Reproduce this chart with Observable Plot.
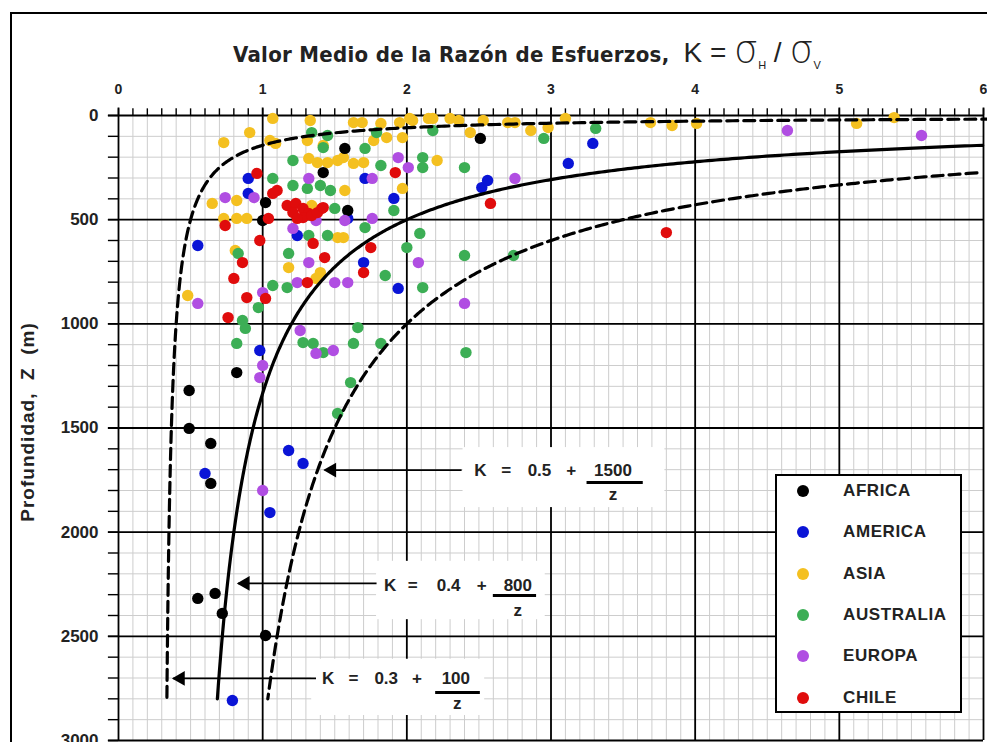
<!DOCTYPE html>
<html>
<head>
<meta charset="utf-8">
<script src="https://cdn.jsdelivr.net/npm/d3@7"></script>
<script src="https://cdn.jsdelivr.net/npm/@observablehq/plot@0.6"></script>
<style>
html,body{margin:0;padding:0;background:#fff;}
#wrap{position:relative;width:987px;height:742px;overflow:hidden;background:#fff;font-family:"Liberation Sans",Arial,sans-serif;}
#frame{position:absolute;left:10px;top:12px;width:1100px;height:900px;border:2px solid #000;box-sizing:border-box;}
#plot{position:absolute;left:0;top:0;}
#plot svg{overflow:visible;}
#plot svg text{font-weight:bold;}
#title{position:absolute;left:233px;top:27px;white-space:nowrap;color:#222;}
#title .t1{font-family:"Liberation Sans Narrow","DejaVu Sans Condensed","Liberation Sans",sans-serif;font-size:22px;font-weight:bold;letter-spacing:0.3px;}
#title .t2{font-family:"Liberation Sans",sans-serif;font-size:28px;margin-left:14px;}
#title .sig{font-family:"DejaVu Sans",sans-serif;font-size:38px;font-weight:200;}
#title sub{font-size:11px;}
#ylab{position:absolute;left:28px;top:422px;transform:translate(-50%,-50%) rotate(-90deg);white-space:nowrap;font-weight:bold;font-size:19px;letter-spacing:1px;color:#222;}
#legend{position:absolute;left:775px;top:474px;width:187px;height:239px;background:#fff;border:2px solid #000;box-sizing:border-box;}
.li{position:absolute;left:0;height:20px;width:180px;}
.li .sw{position:absolute;left:20px;top:4px;width:12px;height:12px;border-radius:50%;}
.li .lb{position:absolute;left:66px;top:0;font-size:17px;font-weight:bold;letter-spacing:0.6px;color:#222;line-height:20px;}
</style>
</head>
<body>
<div id="wrap">
  <div id="frame"></div>
  <div id="plot"></div>
  <div id="title"><span class="t1">Valor Medio de la Razón de Esfuerzos,</span><span class="t2">K = <span class="sig">σ</span><sub>H</sub> / <span class="sig">σ</span><sub>V</sub></span></div>
  <div id="ylab">Profundidad,&nbsp; Z&nbsp; (m)</div>
  <div id="legend"></div>
</div>
<script>
// ---- data: [K, z(m)] per region ----
const africa = [[1.57,158],[2.51,110],[1.42,274],[1.02,418],[1.00,504],[1.59,456],[0.82,1234],[0.49,1320],[0.49,1502],[0.64,1574],[0.64,1766],[0.55,2318],[0.67,2294],[0.72,2390],[1.02,2496]];
const america = [[0.90,302],[0.90,374],[1.71,302],[1.91,398],[1.59,494],[1.24,576],[0.55,624],[1.70,706],[1.94,830],[2.52,346],[2.56,312],[3.12,230],[3.29,134],[0.98,1128],[1.18,1608],[1.28,1670],[0.60,1718],[1.05,1906],[0.79,2808]];
const asia = [[1.07,14],[1.33,24],[1.63,34],[1.69,34],[1.82,38],[1.95,34],[2.04,24],[2.15,14],[0.73,130],[0.91,82],[1.05,120],[1.09,134],[1.31,120],[1.42,144],[1.77,120],[1.86,106],[1.97,106],[1.32,206],[1.38,226],[1.45,226],[1.52,216],[1.63,230],[1.70,226],[1.56,202],[2.21,216],[1.57,360],[1.97,350],[0.65,422],[0.82,408],[0.73,494],[0.82,494],[0.89,494],[1.34,432],[1.52,586],[1.56,586],[1.18,730],[1.40,754],[1.37,782],[0.48,864],[0.81,648],[2.02,14],[2.18,14],[2.30,14],[2.36,24],[2.44,82],[2.53,24],[2.70,34],[2.75,34],[2.86,72],[2.98,58],[3.10,14],[3.69,34],[3.84,48],[4.01,38],[5.12,38],[5.38,10]];
const australia = [[1.34,82],[1.45,96],[1.42,154],[1.71,158],[2.18,72],[1.79,82],[1.21,216],[1.82,240],[2.11,202],[2.11,250],[1.07,302],[1.21,336],[1.31,350],[1.40,336],[1.47,360],[1.50,446],[1.91,456],[1.71,538],[1.32,576],[1.45,576],[2.09,566],[2.00,634],[0.83,662],[1.18,662],[1.07,816],[1.17,826],[1.85,768],[2.11,826],[0.97,922],[0.86,984],[0.88,1022],[1.66,1018],[0.82,1094],[1.28,1090],[1.35,1094],[1.42,1138],[1.63,1094],[1.82,1094],[1.61,1282],[1.52,1430],[2.40,250],[2.95,110],[3.31,62],[2.40,672],[2.74,672],[2.41,1138]];
const europa = [[1.32,302],[1.76,302],[1.94,202],[2.01,250],[0.74,394],[0.94,394],[1.37,504],[1.57,504],[1.76,494],[1.21,542],[1.32,706],[2.08,706],[1.24,802],[1.50,802],[1.59,802],[1.00,850],[0.55,902],[1.26,1032],[1.37,1142],[1.49,1128],[1.00,1200],[0.98,1258],[1.00,1800],[2.75,302],[2.40,902],[4.64,72],[5.57,96]];
const chile = [[0.96,278],[1.10,360],[1.07,374],[1.17,432],[1.23,422],[1.21,466],[1.28,446],[1.32,470],[1.28,490],[1.24,494],[1.34,480],[1.41,446],[1.38,466],[1.42,442],[1.04,494],[0.98,600],[0.86,706],[0.80,782],[0.89,874],[1.02,878],[0.76,970],[1.92,274],[1.35,614],[1.43,682],[1.31,802],[1.75,634],[1.70,754],[0.74,528],[2.58,422],[3.80,562]];

const seriesNames = ["AFRICA","AMERICA","ASIA","AUSTRALIA","EUROPA","CHILE"];
const seriesColors = ["#000000","#0a14d6","#f4c020","#3cae55","#b04ee2","#e00c0c"];
const drawOrder = ["ASIA","AUSTRALIA","AMERICA","AFRICA","EUROPA","CHILE"];
const seriesData = {AFRICA: africa, AMERICA: america, ASIA: asia, AUSTRALIA: australia, EUROPA: europa, CHILE: chile};

// axis ticks
const xTicks = [0,1,2,3,4,5,6];
const yTicks = [0,500,1000,1500,2000,2500,3000];
const xMinor = d3.range(0, 61).map(i => i / 10);
const yMinor = d3.range(0, 31).map(i => i * 100);

// envelope curves K = a + b / z  (labelled on chart)
const curveNames = ["low","mid","high"];
const curveA = [0.3, 0.4, 0.5];
const curveB = [100, 800, 1500];
const curveZTop = [17, 143, 275];
const curveZBottom = [2800, 2800, 2800];

// annotations
const annotLabels = [
  {label:"K", k:2.51, z:1702},{label:"=", k:2.69, z:1702},{label:"0.5", k:2.92, z:1702},{label:"+", k:3.14, z:1702},{label:"1500", k:3.43, z:1702},{label:"z", k:3.43, z:1819},
  {label:"K", k:1.885, z:2256},{label:"=", k:2.04, z:2256},{label:"0.4", k:2.29, z:2256},{label:"+", k:2.52, z:2256},{label:"800", k:2.77, z:2256},{label:"z", k:2.77, z:2376},
  {label:"K", k:1.455, z:2702},{label:"=", k:1.63, z:2702},{label:"0.3", k:1.857, z:2702},{label:"+", k:2.07, z:2702},{label:"100", k:2.34, z:2702},{label:"z", k:2.35, z:2822}
];
const fracBars = [{k1:3.25,k2:3.64,z:1762},{k1:2.60,k2:2.90,z:2304},{k1:2.20,k2:2.51,z:2770}];
const annotBoxes = [{k1:2.39,k2:3.79,z1:1594,z2:1882},{k1:1.79,k2:2.96,z1:2140,z2:2420},{k1:1.34,k2:2.54,z1:2610,z2:2880}];
const arrows = [{k1:2.38,k2:1.43,z:1702},{k1:1.79,k2:0.83,z:2246},{k1:1.37,k2:0.38,z:2702}];

// ---- build tables ----
const points = [];
for (const name of drawOrder) for (const [k, z] of seriesData[name]) points.push({name, k, z});

const curves = [];
curveNames.forEach((c, i) => {
  const zs = d3.range(0, 401).map(j => curveZTop[i] * Math.pow(curveZBottom[i] / curveZTop[i], j / 400));
  for (const z of zs) curves.push({curve: c, z, k: curveA[i] + curveB[i] / z});
});

const chart = Plot.plot({
  width: 987, height: 742,
  marginLeft: 118, marginRight: 4, marginTop: 115, marginBottom: 2,
  style: {background: "transparent", fontFamily: "'Liberation Sans', Arial, sans-serif", fontSize: "17px", color: "#222"},
  x: {domain: [0, 6], axis: null},
  y: {domain: [0, 3000], reverse: true, axis: null},
  color: {domain: seriesNames, range: seriesColors},
  marks: [
    Plot.ruleX(xMinor, {y1: 0, y2: 3000, stroke: "#cdcdcd", strokeWidth: 1}),
    Plot.ruleY(yMinor, {x1: 0, x2: 6, stroke: "#cdcdcd", strokeWidth: 1}),
    Plot.ruleX(xMinor, {y1: 0, y2: -32, stroke: "#000", strokeWidth: 1.4}),
    Plot.ruleY(yMinor, {x1: -0.07, x2: 0, stroke: "#000", strokeWidth: 1.4}),
    Plot.ruleX(xTicks, {y1: -36, y2: 3000, stroke: "#000", strokeWidth: 1.8}),
    Plot.ruleY(yTicks, {x1: -0.07, x2: 6, stroke: "#000", strokeWidth: 1.8}),
    Plot.axisX(xTicks, {anchor: "top", tickSize: 0, tickPadding: 22, tickFormat: "d", fontSize: 14, label: null}),
    Plot.axisY(yTicks, {anchor: "left", tickSize: 0, tickPadding: 20, tickFormat: "d", fontSize: 17, label: null}),
    Plot.rect(annotBoxes, {x1: "k1", x2: "k2", y1: "z1", y2: "z2", fill: "#fff"}),
    Plot.dot(points, {x: "k", y: "z", fill: "name", r: 5.7}),
    Plot.line(curves.filter(d => d.curve === "mid"), {x: "k", y: "z", stroke: "#000", strokeWidth: 3.2}),
    Plot.line(curves.filter(d => d.curve !== "mid"), {x: "k", y: "z", z: "curve", stroke: "#000", strokeWidth: 3.2, strokeDasharray: "11,6"}),
    Plot.link(arrows, {x1: "k1", x2: "k2", y1: "z", y2: "z", stroke: "#000", strokeWidth: 1.6}),
    Plot.dot(arrows, {x: d => d.k2 + 0.05, y: "z", symbol: "triangle", rotate: -90, r: 5.5, fill: "#000"}),
    Plot.ruleY(fracBars, {y: "z", x1: "k1", x2: "k2", stroke: "#000", strokeWidth: 3}),
    Plot.text(annotLabels, {x: "k", y: "z", text: "label", fontSize: 17, fontWeight: "bold", fill: "#222"})
  ]
});
document.getElementById("plot").appendChild(chart);

// legend
const lg = document.getElementById("legend");
seriesNames.forEach((name, i) => {
  const row = document.createElement("div");
  row.className = "li";
  row.style.top = (5 + i * 41.3) + "px";
  row.innerHTML = `<span class="sw" style="background:${seriesColors[i]}"></span><span class="lb">${name}</span>`;
  lg.appendChild(row);
});
</script>
</body>
</html>
